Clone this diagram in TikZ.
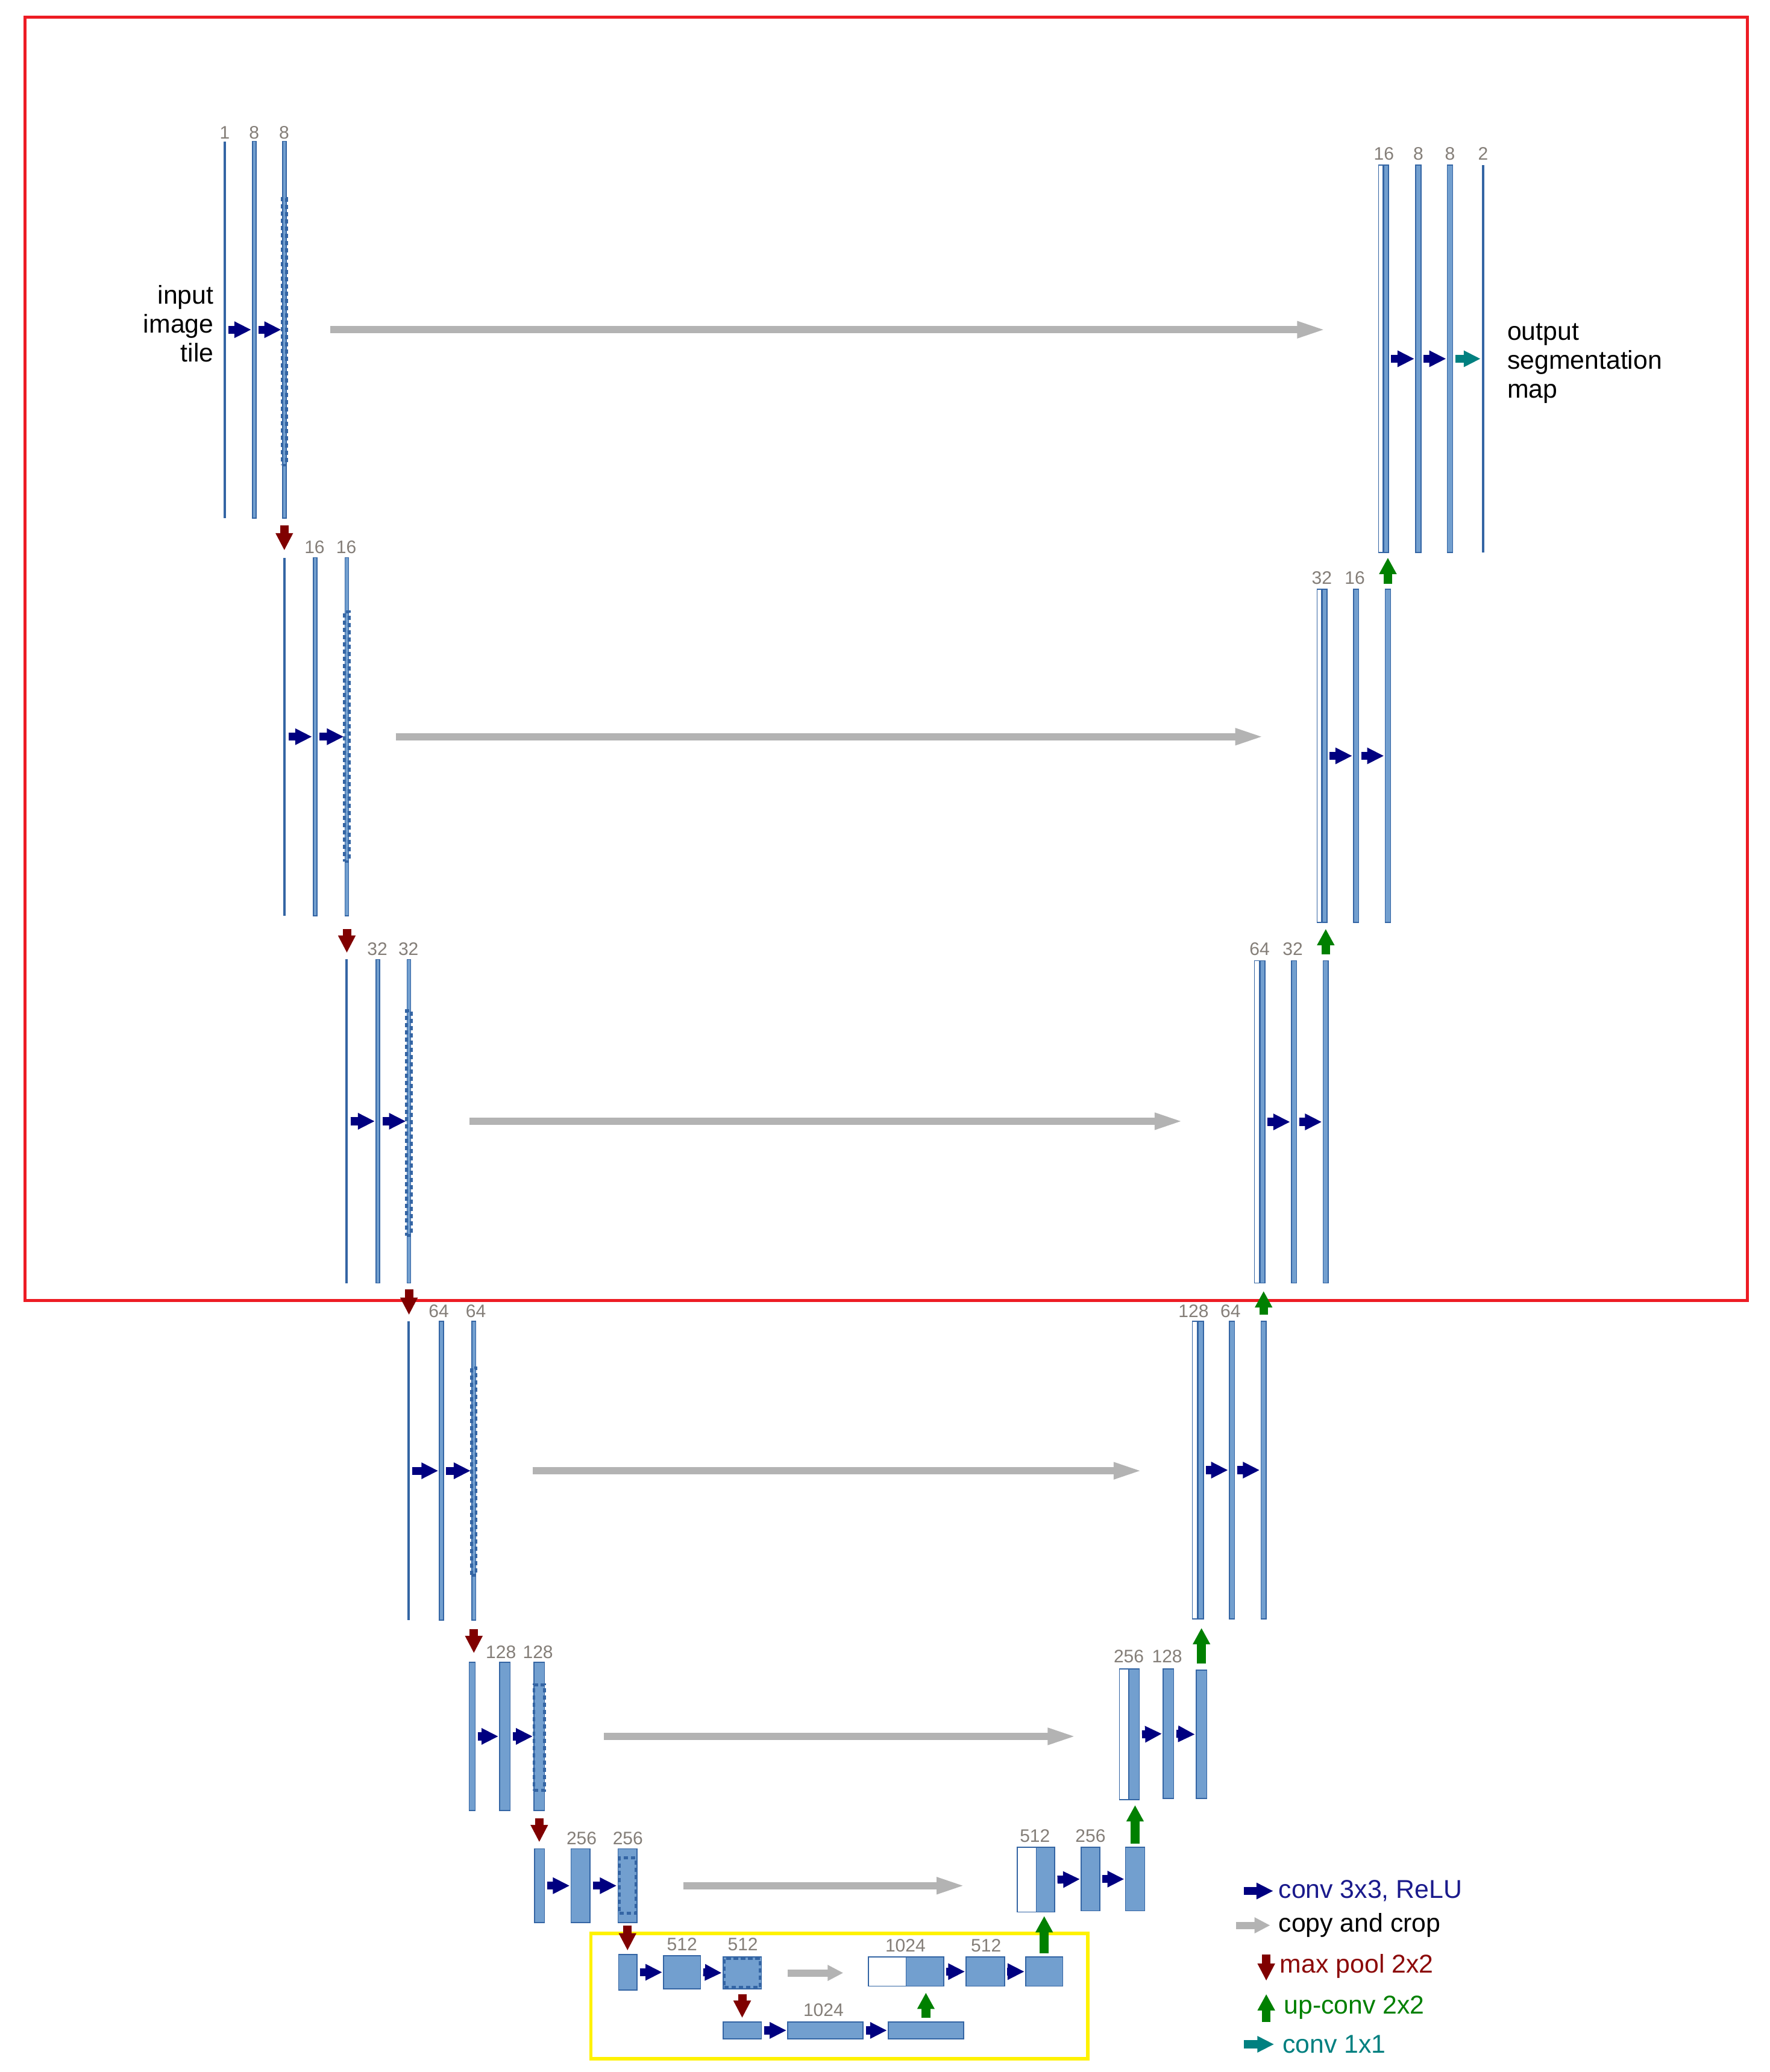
\documentclass[tikz,border=0pt]{standalone}
\usepackage{fontspec}
\setmainfont{Liberation Sans}
\usetikzlibrary{arrows.meta,fit}
\definecolor{lfill}{RGB}{114,159,207}
\definecolor{ldraw}{RGB}{52,101,164}
\definecolor{cnavy}{RGB}{0,0,128}
\definecolor{cgray}{RGB}{179,179,179}
\definecolor{cred}{RGB}{128,0,0}
\definecolor{cgreen}{RGB}{0,128,0}
\definecolor{cteal}{RGB}{0,128,128}
\definecolor{labgray}{RGB}{132,126,120}
\definecolor{boxred}{RGB}{237,28,36}
\definecolor{boxyellow}{RGB}{255,242,0}
\definecolor{legnavy}{RGB}{26,26,140}
\definecolor{legred}{RGB}{140,10,10}
\newcommand{\lyr}[6][lay]{\node[#1, fit={(#3,#5) (#4,#6)}] (#2) {};}
\begin{document}
\begin{tikzpicture}[x=0.5482pt,y=-0.5482pt,
  lay/.style={draw=ldraw, fill=lfill, line width=0.4pt, inner sep=0pt, outer sep=0pt},
  wlay/.style={draw=ldraw, fill=white, line width=0.4pt, inner sep=0pt, outer sep=0pt},
  tlay/.style={draw=none, fill=ldraw, inner sep=0pt, outer sep=0pt},
  crop/.style={draw=ldraw, line width=1.2pt, dash pattern=on 1.8pt off 1.2pt, inner sep=0pt, outer sep=0pt},
  lab/.style={text=labgray, font=\fontsize{7.5}{8}\selectfont, anchor=base, inner sep=0pt},
  big/.style={font=\fontsize{10.7}{12.06}\selectfont, inner sep=0pt},
  conv/.style={draw=cnavy, line width=3.3pt, -{Triangle[width=6.4pt,length=7pt]}, shorten <=1.1pt, shorten >=0.5pt},
  conva/.style={draw=cteal, line width=3.3pt, -{Triangle[width=6.4pt,length=7pt]}, shorten <=1.1pt, shorten >=0.5pt},
  copy/.style={draw=cgray, line width=3pt, -{Triangle[width=6.2pt,length=12.3pt]}},
  copyshort/.style={draw=cgray, line width=3pt, -{Triangle[width=6.2pt,length=6.5pt]}},
  pool/.style={draw=cred, line width=3.5pt, -{Triangle[width=6.8pt,length=7.2pt]}},
  upc/.style={draw=cgreen, line width=3.6pt, -{Triangle[width=6.8pt,length=6.8pt]}}
]
\fill[white] (0,0) rectangle (1339,1568);
\useasboundingbox (0,0) rectangle (1339,1568);

% frames
\draw[boxred, line width=1.2pt] (19,13) rectangle (1322,984);
\draw[boxyellow, line width=1.4pt] (447,1463) rectangle (823,1558);

% ---------------- encoder ----------------
% level 1
\lyr[tlay]{e11}{169.4}{170.8}{107}{392}
\lyr{e12}{191}{193.8}{107}{392}
\lyr{e13}{213.7}{216.5}{107}{392}
\node[crop, fit={(213.4,150) (216.8,352)}] (c1) {};
\node[lab] at (170,105) {1};
\node[lab] at (192.3,105) {8};
\node[lab] at (215,105) {8};
% level 2
\lyr[tlay]{e21}{214.6}{215.9}{422}{693}
\lyr{e22}{237}{239.8}{422}{693}
\lyr{e23}{261}{263.8}{422}{693}
\node[crop, fit={(260.7,463) (264.1,652)}] (c2) {};
\node[lab] at (238,419) {16};
\node[lab] at (262,419) {16};
% level 3
\lyr[tlay]{e31}{261.6}{262.9}{726}{971}
\lyr{e32}{284.5}{287.3}{726}{971}
\lyr{e33}{308}{310.8}{726}{971}
\node[crop, fit={(307.7,765) (311.1,935)}] (c3) {};
\node[lab] at (285.5,723) {32};
\node[lab] at (309,723) {32};
% level 4
\lyr[tlay]{e41}{308.3}{309.7}{1000}{1226}
\lyr{e42}{332.5}{335.5}{1000}{1226}
\lyr{e43}{357}{360}{1000}{1226}
\node[crop, fit={(356.8,1035) (360.2,1192)}] (c4) {};
\node[lab] at (332,997) {64};
\node[lab] at (360,997) {64};
% level 5
\lyr{e51}{355}{359.5}{1258}{1370}
\lyr{e52}{378}{386}{1258}{1370}
\lyr{e53}{404}{412}{1258}{1370}
\node[crop, fit={(404,1275) (412,1355)}] (c5) {};
\node[lab] at (379,1255) {128};
\node[lab] at (407,1255) {128};
% level 6
\lyr{e61}{404.5}{412}{1399}{1455}
\lyr{e62}{432}{446.5}{1399}{1455}
\lyr{e63}{467.5}{482}{1399}{1455}
\node[crop, fit={(468.5,1406) (481,1448)}] (c6) {};
\node[lab] at (440,1396) {256};
\node[lab] at (475,1396) {256};
% level 7
\lyr{e71}{468}{482}{1479}{1506}
\lyr{e72}{502}{530}{1480}{1505}
\lyr{e73}{547}{576}{1481}{1505}
\node[crop, fit={(548,1482) (575,1504)}] (c7) {};
\node[lab] at (516,1476) {512};
\node[lab] at (562,1476) {512};
% level 8
\lyr{e81}{547}{576}{1530}{1543}
\lyr{e82}{596}{653}{1530}{1543}
\lyr{e83}{672}{729}{1530}{1543}
\node[lab] at (623,1526) {1024};

% ---------------- decoder ----------------
% level 7
\lyr[wlay]{d7w}{657}{685.5}{1481}{1503}
\lyr{d7b}{685.5}{714}{1481}{1503}
\lyr{d72}{731}{760}{1481}{1503}
\lyr{d73}{776}{804}{1481}{1503}
\node[lab] at (685,1477) {1024};
\node[lab] at (746,1477) {512};
% level 6
\lyr[wlay]{d6w}{769.5}{784}{1398}{1447}
\lyr{d6b}{784}{798}{1398}{1447}
\lyr{d62}{818}{832}{1398}{1446}
\lyr{d63}{851.5}{866}{1398}{1446}
\node[lab] at (783,1394) {512};
\node[lab] at (825,1394) {256};
% level 5
\lyr[wlay]{d5w}{847}{854}{1263}{1362}
\lyr{d5b}{854}{862}{1263}{1362}
\lyr{d52}{880}{888}{1263}{1361}
\lyr{d53}{905}{913}{1264}{1361}
\node[lab] at (854,1258) {256};
\node[lab] at (883,1258) {128};
% level 4
\lyr[wlay]{d4w}{902}{906}{1000}{1225}
\lyr{d4b}{906.5}{910.5}{1000}{1225}
\lyr{d42}{930}{934}{1000}{1225}
\lyr{d43}{954}{958}{1000}{1225}
\node[lab] at (903,997) {128};
\node[lab] at (931,997) {64};
% level 3
\lyr[wlay]{d3w}{949}{953}{727}{971}
\lyr{d3b}{953.5}{957}{727}{971}
\lyr{d32}{977}{981}{727}{971}
\lyr{d33}{1001}{1005}{727}{971}
\node[lab] at (953,723) {64};
\node[lab] at (978,723) {32};
% level 2
\lyr[wlay]{d2w}{996.5}{1000}{446}{698}
\lyr{d2b}{1000.5}{1004}{446}{698}
\lyr{d22}{1024}{1028}{446}{698}
\lyr{d23}{1048}{1052}{446}{698}
\node[lab] at (1000,442) {32};
\node[lab] at (1025,442) {16};
% level 1
\lyr[wlay]{d1w}{1043}{1046.5}{125}{418}
\lyr{d1b}{1047}{1050.5}{125}{418}
\lyr{d12}{1071}{1075}{125}{418}
\lyr{d13}{1095}{1099}{125}{418}
\lyr[tlay]{d14}{1121.3}{1122.7}{125}{418}
\node[lab] at (1047,121) {16};
\node[lab] at (1073,121) {8};
\node[lab] at (1097,121) {8};
\node[lab] at (1122,121) {2};

% texts
\node[big, align=right, anchor=east] (intext) at (162,245) {input\\image\\tile};
\node[big, align=left, anchor=west] (outtext) at (1140,275) {output\\segmentation\\map};

% ---------------- conv arrows ----------------
\draw[conv] (e11.east) -- (e12.west);
\draw[conv] (e12.east) -- (e13.west);
\draw[conv] (e21.east) -- (e22.west);
\draw[conv] (e22.east) -- (e23.west);
\draw[conv] (e31.east) -- (e32.west);
\draw[conv] (e32.east) -- (e33.west);
\draw[conv] (e41.east) -- (e42.west);
\draw[conv] (e42.east) -- (e43.west);
\draw[conv] (e51.east) -- (e52.west);
\draw[conv] (e52.east) -- (e53.west);
\draw[conv] (e61.east) -- (e62.west);
\draw[conv] (e62.east) -- (e63.west);
\draw[conv] (e71.east) -- (e72.west);
\draw[conv] (e72.east) -- (e73.west);
\draw[conv] (e81.east) -- (e82.west);
\draw[conv] (e82.east) -- (e83.west);
\draw[conv] (d7b.east) -- (d72.west);
\draw[conv] (d72.east) -- (d73.west);
\draw[conv] (d6b.east) -- (d62.west);
\draw[conv] (d62.east) -- (d63.west);
\draw[conv] (d5b.east) -- (d52.west);
\draw[conv] (d52.east) -- (d53.west);
\draw[conv] (d4b.east) -- (d42.west);
\draw[conv] (d42.east) -- (d43.west);
\draw[conv] (d3b.east) -- (d32.west);
\draw[conv] (d32.east) -- (d33.west);
\draw[conv] (d2b.east) -- (d22.west);
\draw[conv] (d22.east) -- (d23.west);
\draw[conv] (d1b.east) -- (d12.west);
\draw[conv] (d12.east) -- (d13.west);
\draw[conva] (d13.east) -- (d14.west);

% ---------------- copy and crop ----------------
\draw[copy, shorten <=18.4pt, shorten >=21.5pt] (e13.east) -- (e13.east -| d1w.west);
\draw[copy, shorten <=19.5pt, shorten >=21.7pt] (e23.east) -- (e23.east -| d2w.west);
\draw[copy, shorten <=24.4pt, shorten >=29.1pt] (e33.east) -- (e33.east -| d3w.west);
\draw[copy, shorten <=23.6pt, shorten >=20.3pt] (e43.east) -- (e43.east -| d4w.west);
\draw[copy, shorten <=24.7pt, shorten >=17.5pt] (e53.east) -- (e53.east -| d5w.west);
\draw[copy, shorten <=19.2pt, shorten >=21.1pt] (e63.east) -- (e63.east -| d6w.west);
\draw[copyshort, shorten <=11pt, shorten >=10.4pt] (e73.east) -- (e73.east -| d7w.west);

% ---------------- max pool ----------------
\draw[pool, shorten <=3.0pt, shorten >=3.0pt] (e13.south) -- (e13.south |- e21.north);
\draw[pool, shorten <=5.5pt, shorten >=2.7pt] (e23.south) -- (e23.south |- e31.north);
\draw[pool, shorten <=2.7pt, shorten >=2.7pt] (e33.south) -- (e33.south |- e41.north);
\draw[pool, shorten <=3.8pt, shorten >=3.8pt] (e43.south) -- (e43.south |- e51.north);
\draw[pool, shorten <=3.3pt, shorten >=2.7pt] (e53.south) -- (e53.south |- e61.north);
\draw[pool, shorten <=1.1pt, shorten >=1.6pt] (e63.south) -- (e63.south |- e71.north);
\draw[pool, shorten <=2.2pt, shorten >=1.6pt] (e73.south) -- (e73.south |- e81.north);

% ---------------- up-conv ----------------
\draw[upc, shorten <=1.6pt, shorten >=2.7pt] (e83.north) -- (e83.north |- d7b.south);
\draw[upc, shorten <=1.6pt, shorten >=1.6pt] (d73.north) -- (d73.north |- d6b.south);
\draw[upc, shorten <=1.6pt, shorten >=2.2pt] (d63.north) -- (d63.north |- d5b.south);
\draw[upc, shorten <=2.7pt, shorten >=3.8pt] (d53.north) -- (d53.north |- d4b.south);
\draw[upc, shorten <=2.7pt, shorten >=3.3pt] (d43.north) -- (d43.north |- d3b.south);
\draw[upc, shorten <=2.7pt, shorten >=2.7pt] (d33.north) -- (d33.north |- d2b.south);
\draw[upc, shorten <=2.2pt, shorten >=2.2pt] (d23.north) -- (d23.north |- d1b.south);

% ---------------- legend ----------------
\node[big, anchor=west, text=legnavy] (lt1) at (967,1431) {conv 3x3, ReLU};
\node[big, anchor=west] (lt2) at (967,1457) {copy and crop};
\node[big, anchor=west, text=legred] (lt3) at (968,1488) {max pool 2x2};
\node[big, anchor=west, text=cgreen] (lt4) at (971,1519) {up-conv 2x2};
\node[big, anchor=west, text=cteal] (lt5) at (970,1547) {conv 1x1};
\coordinate (lg1) at (941,1431);
\coordinate (lg2) at (935,1457);
\coordinate (lg3a) at (958,1479);
\coordinate (lg3b) at (958,1499);
\coordinate (lg4a) at (958,1530);
\coordinate (lg4b) at (958,1509);
\coordinate (lg5) at (941,1547);
\draw[conv, shorten <=0pt, shorten >=2pt] (lg1) -- (lt1.west);
\draw[copyshort, shorten >=3.3pt] (lg2) -- (lt2.west);
\draw[pool] (lg3a) -- (lg3b);
\draw[upc] (lg4a) -- (lg4b);
\draw[conva, shorten <=0pt, shorten >=3.3pt] (lg5) -- (lt5.west);
\end{tikzpicture}
\end{document}
